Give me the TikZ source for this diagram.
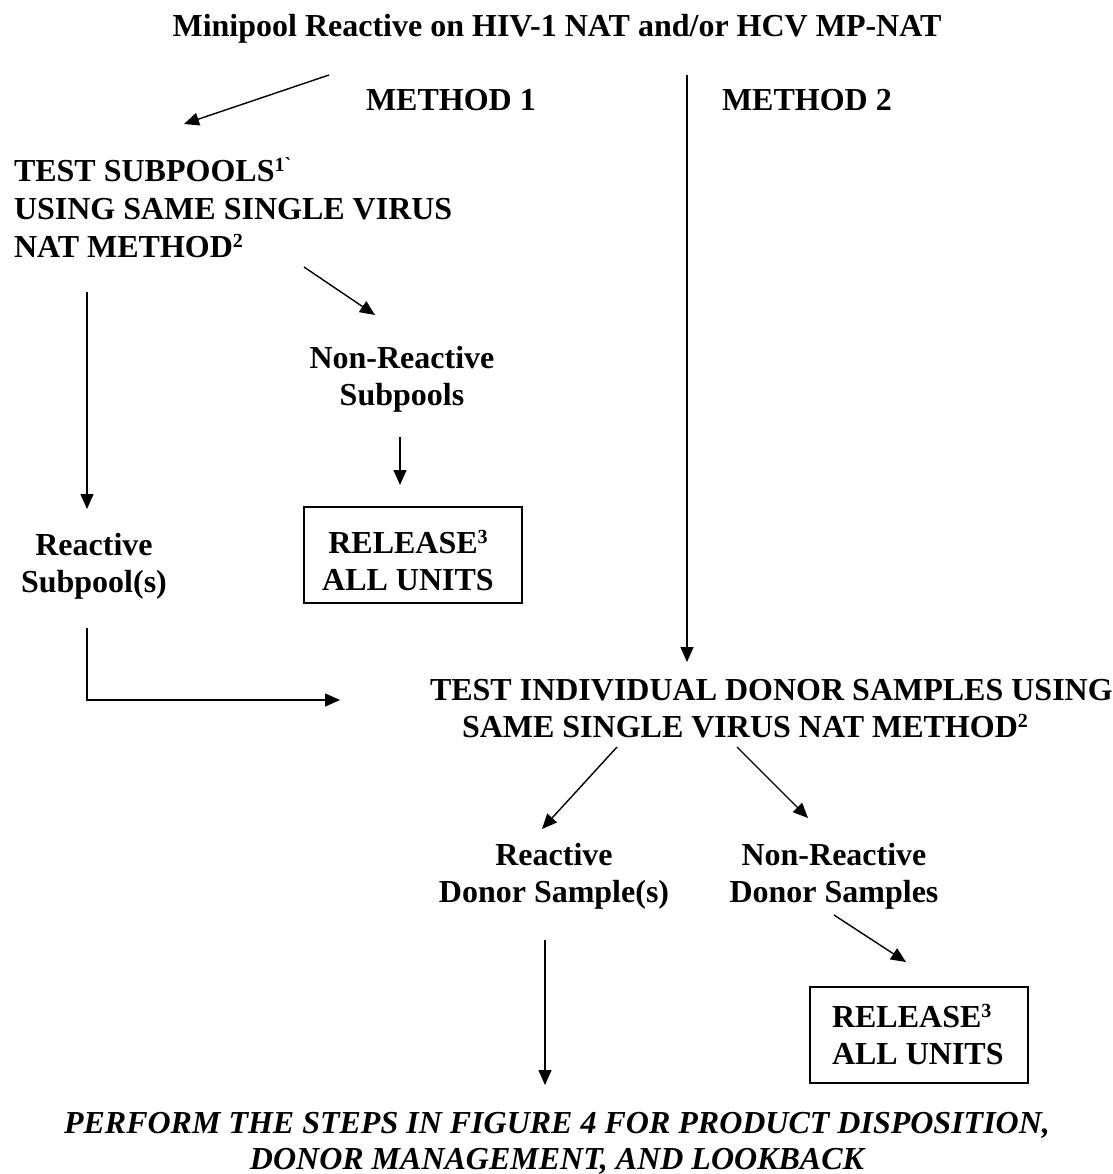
\documentclass[tikz,border=0pt]{standalone}
\usepackage{fontspec}
\setmainfont{Liberation Serif}
\usetikzlibrary{arrows.meta}
\newcommand\supnum[1]{\raisebox{10pt}{\fontsize{20}{20}\selectfont #1}}
\begin{document}
\begin{tikzpicture}[x=1pt,y=-1pt,
  every node/.style={inner sep=0pt,outer sep=0pt},
  txt/.style={font=\fontsize{32}{37}\selectfont\bfseries,align=center,anchor=base},
  txtl/.style={font=\fontsize{32}{37}\selectfont\bfseries,align=left,anchor=base west},
  arr/.style={line width=1.4pt,-{Triangle[length=15pt,width=13pt]}},
  ln/.style={line width=1.4pt},
]
\useasboundingbox[fill=white] (0,0) rectangle (1112,1174);

% texts (positions are last-line baselines)
\node[txt] (title) at (557,37) {Minipool Reactive on HIV-1 NAT and/or HCV MP-NAT};
\node[txtl] (m1) at (366,111) {METHOD 1};
\node[txtl] (m2) at (722,111) {METHOD 2};
\node[txtl,font=\fontsize{32}{38}\selectfont\bfseries] (ts) at (14,258)
  {TEST SUBPOOLS\supnum{1\textasciigrave}\\USING SAME SINGLE VIRUS\\NAT METHOD\supnum{2}};
\node[txt,font=\fontsize{32}{37}\selectfont\bfseries] (nrs) at (402,405) {Non-Reactive\\Subpools};
\node[draw,ln,minimum width=218pt,minimum height=96pt,anchor=north west] (rel1) at (304,507) {};
\node[txt] (rel1t) at (408,590) {RELEASE\supnum{3}\\ALL UNITS};
\node[txt] (rs) at (94,592) {Reactive\\Subpool(s)};
\node[txtl,font=\fontsize{32}{37}\selectfont\bfseries] (ti) at (430,737)
  {TEST INDIVIDUAL DONOR SAMPLES USING\\\hspace*{32pt}SAME SINGLE VIRUS NAT METHOD\supnum{2}};
\node[txt] (rd) at (554,902) {Reactive\\Donor Sample(s)};
\node[txt] (nrd) at (834,902) {Non-Reactive\\Donor Samples};
\node[draw,ln,minimum width=218pt,minimum height=96pt,anchor=north west] (rel2) at (810,987) {};
\node[txtl,font=\fontsize{32}{37}\selectfont\bfseries] (rel2t) at (832,1064) {RELEASE\supnum{3}\\ALL UNITS};
\node[txt,font=\fontsize{32}{36}\selectfont\bfseries\itshape] (perf) at (557,1169)
  {PERFORM THE STEPS IN FIGURE 4 FOR PRODUCT DISPOSITION,\\DONOR MANAGEMENT, AND LOOKBACK};

% connector end points
\coordinate (a1s) at (329,75);
\coordinate (a1e) at (184,124);
\coordinate (vs) at (687,75);
\coordinate (ve) at (687,662);
\coordinate (b1s) at (304,267);
\coordinate (b1e) at (375,315);
\coordinate (c1s) at (87,292);
\coordinate (c1e) at (87,509);
\coordinate (d1s) at (400,437);
\coordinate (d1e) at (400,485);
\coordinate (e1s) at (87,628);
\coordinate (e1c) at (87,700);
\coordinate (e1e) at (340,700);
\coordinate (f1s) at (617,747);
\coordinate (f1e) at (542,829);
\coordinate (f2s) at (737,747);
\coordinate (f2e) at (808,818);
\coordinate (g1s) at (834,915);
\coordinate (g1e) at (906,962);
\coordinate (h1s) at (545,940);
\coordinate (h1e) at (545,1085);

\draw[arr] (a1s) -- (a1e);
\draw[arr] (vs) -- (ve);
\draw[arr] (b1s) -- (b1e);
\draw[arr] (c1s) -- (c1e);
\draw[arr] (d1s) -- (d1e);
\draw[arr] (e1s) -- (e1c) -- (e1e);
\draw[arr] (f1s) -- (f1e);
\draw[arr] (f2s) -- (f2e);
\draw[arr] (g1s) -- (g1e);
\draw[arr] (h1s) -- (h1e);
\end{tikzpicture}
\end{document}
